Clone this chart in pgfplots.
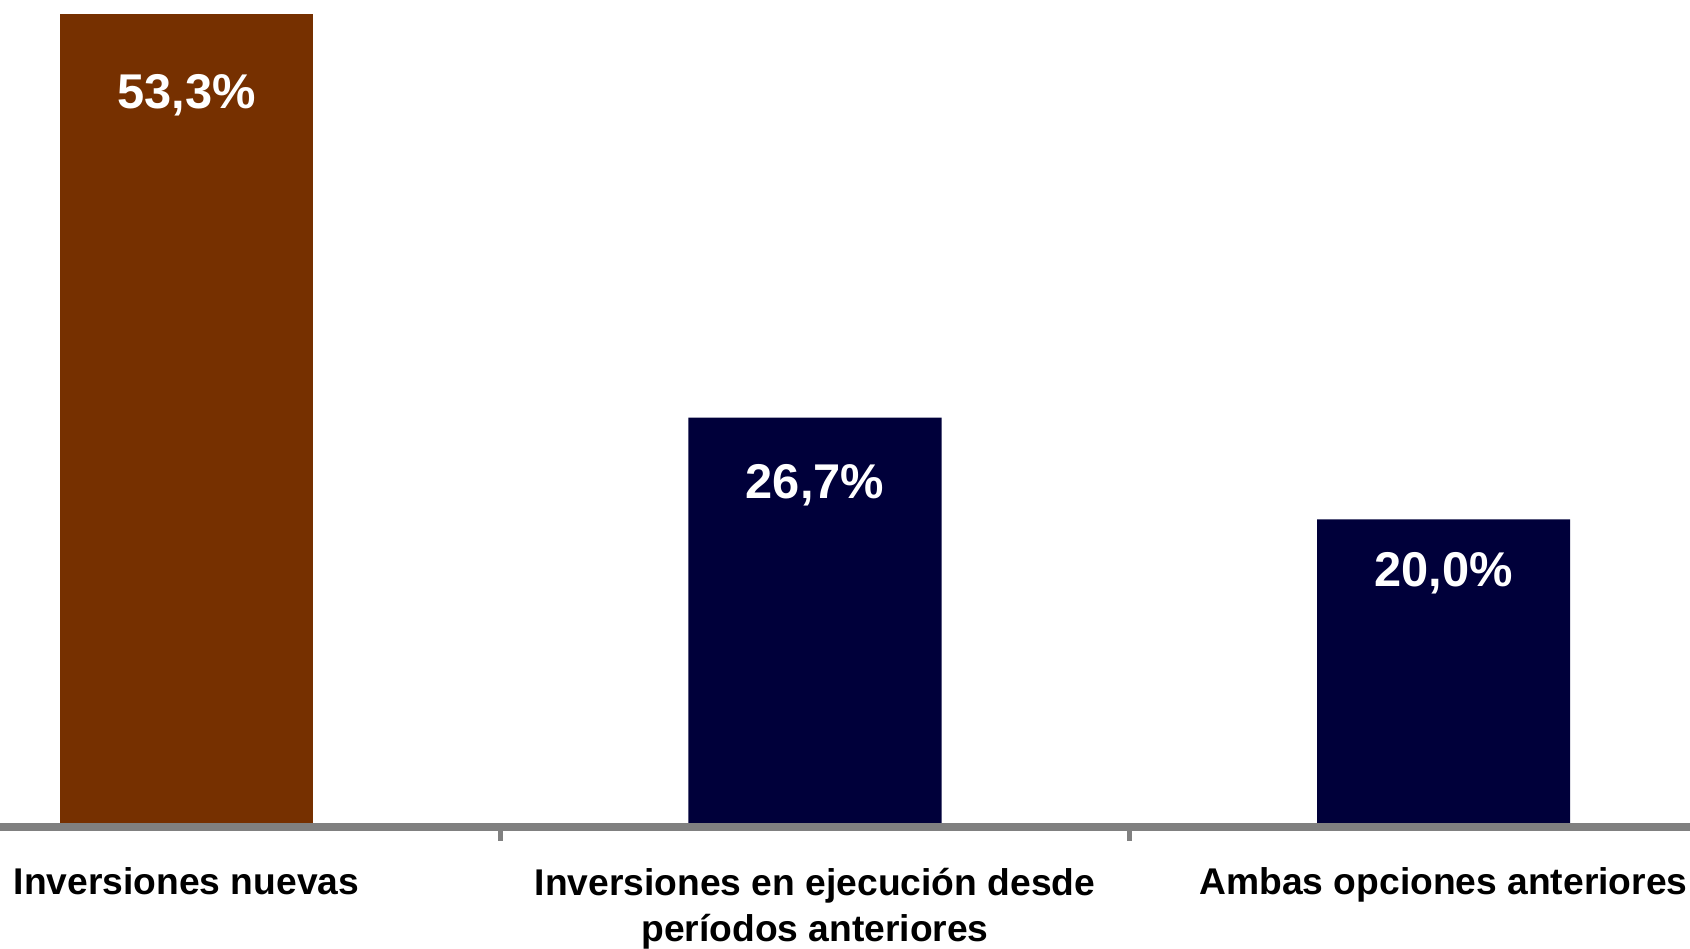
\documentclass[border=0pt]{standalone}
\usepackage{pgfplots}
\pgfplotsset{compat=1.18}
\usepackage{fontspec}
\setmainfont{Liberation Sans}
\definecolor{brownbar}{RGB}{118,48,0}
\definecolor{navybar}{RGB}{0,0,58}
\definecolor{axisgray}{RGB}{128,128,128}
\begin{document}
\begin{tikzpicture}
\begin{axis}[
  name=ax,
  scale only axis,
  width=422.5pt, height=206.75pt,
  xmin=-0.2967, xmax=2.3922,
  ymin=-0.263, ymax=54.2,
  ybar, bar width=63.25pt,
  axis y line=none,
  axis x line*=bottom,
  x axis line style={axisgray, line width=2pt, -},
  xtick={0.5,1.5},
  xticklabels={},
  tick align=outside,
  major tick length=3.5pt,
  x tick style={axisgray, line width=1.2pt},
  extra x ticks={0,1,2},
  extra x tick labels={Inversiones nuevas, Inversiones en ejecución desde\\períodos anteriores, Ambas opciones anteriores},
  extra x tick style={major tick length=0pt, tick style={draw=none}},
  xticklabel style={font=\fontsize{9.3}{11.6}\selectfont\bfseries, align=center, anchor=north, yshift=-6.7pt},
  clip=false,
]
\addplot[fill=brownbar, draw=none, bar shift=0pt] coordinates {(0,53.3)};
\addplot[fill=navybar, draw=none, bar shift=0pt] coordinates {(1,26.7) (2,20.0)};
\node[text=white, font=\fontsize{12.2}{14}\selectfont\bfseries] at (axis cs:0,47.95) {53,3\%};
\node[text=white, font=\fontsize{12.2}{14}\selectfont\bfseries] at (axis cs:1,22.25) {26,7\%};
\node[text=white, font=\fontsize{12.2}{14}\selectfont\bfseries] at (axis cs:2,16.45) {20,0\%};
\end{axis}
\pgfresetboundingbox
\path[use as bounding box] ([yshift=-30.5pt]ax.south west) rectangle (ax.north east);
\end{tikzpicture}
\end{document}
